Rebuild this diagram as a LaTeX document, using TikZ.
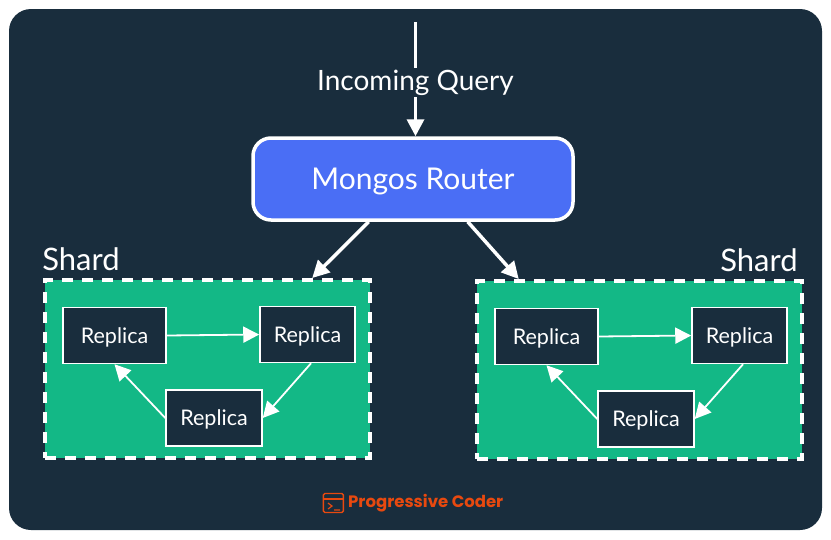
\documentclass[tikz,border=0pt]{standalone}
\usepackage{fontspec}
\setmainfont{Lato}
\newfontfamily\logofont{Poppins}
\usetikzlibrary{positioning}
\usetikzlibrary{arrows.meta}
\definecolor{panelClr}{HTML}{192D3D}
\definecolor{routerClr}{HTML}{4A6EF5}
\definecolor{shardClr}{HTML}{13B886}
\definecolor{logoClr}{HTML}{E8490F}
\tikzset{
  router/.style = {draw=white, line width=3.5pt, fill=routerClr, rounded corners=18pt, minimum width=320pt, minimum height=82pt, text=white, text depth=0pt, font=\fontsize{30}{32}\selectfont},
  shard/.style = {draw=white, line width=4pt, dash pattern=on 11pt off 9pt, fill=shardClr, minimum width=325pt, minimum height=178pt},
  replica/.style = {draw=white, line width=1.5pt, fill=panelClr, text=white, minimum height=56pt, text depth=0pt, font=\fontsize{21.5}{24}\selectfont},
  caption/.style = {text=white, inner sep=0pt, font=\fontsize{28}{30}\selectfont},
  bigArrow/.style = {draw=white, line width=3.5pt, -{Triangle[length=17pt,width=17pt]}},
  thinArrow/.style = {draw=white, line width=1.8pt, -{Triangle[length=16pt,width=16pt]}},
}
\begin{document}
\begin{tikzpicture}[x=1pt, y=-1pt]
    \useasboundingbox (0,0) rectangle (831,539);
    \fill [panelClr, rounded corners=22pt] (9,9) rectangle (822,530);

    \node [router] (router) at (413,179) {Mongos Router};
    \coordinate (top) at (415.5,22);
    \draw [bigArrow] (top) -- node [caption, fill=panelClr, pos=0.53, inner ysep=2pt] (query) {Incoming Query} (top |- router.north);

    \foreach \s/\x/\y/\lx/\ly in {L/0/0/81/259, R/432/1/759/260} {
        \begin{scope}[shift={(\x,\y)}]
            \node [shard] (shard\s) at (207.5,369) {};
            \node [replica, minimum width=103pt] (rep\s1) at (114.5,335.5) {Replica};
            \node [replica, minimum width=95pt] (rep\s2) at (307.5,334.5) {Replica};
            \node [replica, minimum width=96pt] (rep\s3) at (214,418) {Replica};
            \draw [thinArrow] (rep\s1.east) -- (rep\s2.west);
            \draw [thinArrow] (rep\s2.-83) -- (rep\s3.east);
            \draw [thinArrow] (rep\s3.west) -- (rep\s1.south);
        \end{scope}
        \node [caption, font=\fontsize{31}{32}\selectfont] (label\s) at (\lx,\ly) {Shard};
    }
    \draw [bigArrow] (router.224) -- (shardL.41);
    \draw [bigArrow] (router.-38) -- (shardR.143);

    % logo
    \node [text=logoClr, inner sep=0pt, anchor=west, font=\logofont\bfseries\fontsize{16.5}{18}\selectfont] (logo) at (348,503) {Progressive Coder};
    \node [draw=logoClr, line width=1.4pt, rounded corners=1.5pt, minimum width=20pt, minimum height=19pt, inner sep=0pt, left=4pt of logo] (icon) {};
    \draw [logoClr, line width=1.2pt] (icon.west |- 0,499) -- (icon.east |- 0,499);
    \draw [logoClr, line width=1.2pt] (328,503) -- (332,506) -- (328,509) (334,510) -- (340,510);
\end{tikzpicture}
\end{document}
